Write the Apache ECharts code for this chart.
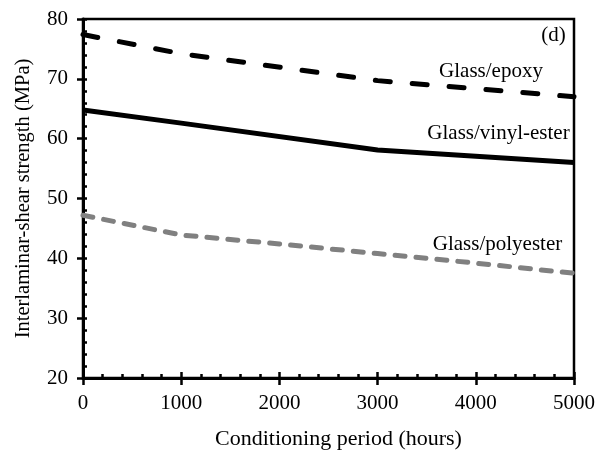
<!DOCTYPE html>
<html>
<head>
<meta charset="utf-8">
<script src="https://cdn.jsdelivr.net/npm/echarts@6/dist/echarts.min.js"></script>
<style>
html,body{margin:0;padding:0;background:#fff;}
#chart{width:601px;height:455px;}
</style>
</head>
<body>
<div id="chart"></div>
<script>
// Data
const epoxyX = [0, 1000, 3000, 5000];
const epoxyY = [77.4, 74.2, 69.7, 67.0];
const vinylX = [0, 1000, 3000, 5000];
const vinylY = [64.8, 62.6, 58.1, 56.0];
const polyX = [0, 1000, 2000, 3000, 4000, 5000];
const polyY = [47.2, 43.9, 42.4, 40.8, 39.2, 37.5];
const labelTexts = ['Glass/epoxy', 'Glass/vinyl-ester', 'Glass/polyester', '(d)'];
const labelX = [4160, 4236, 4226, 4796];
const labelY = [71.2, 60.7, 42.3, 77.2];
const xTitle = 'Conditioning period (hours)';
const yTitle = 'Interlaminar-shear strength (MPa)';

const FONT = 'Liberation Serif';
const zip = (xs, ys) => xs.map((x, i) => [x, ys[i]]);

const chart = echarts.init(document.getElementById('chart'), null, {renderer: 'canvas'});
const axisCommonX = {type: 'value', min: 0, max: 5000, interval: 1000, position: 'bottom', gridIndex: 0};
const axisCommonY = {type: 'value', min: 20, max: 80, interval: 10, position: 'left', gridIndex: 0};
chart.setOption({
  backgroundColor: '#fff',
  animation: false,
  grid: {left: 83, right: 27, top: 19, bottom: 76, show: true, borderColor: '#000', borderWidth: 2.5, backgroundColor: 'transparent'},
  xAxis: [
    Object.assign({}, axisCommonX, {
      name: xTitle, nameLocation: 'middle', nameGap: 50,
      nameTextStyle: {fontFamily: FONT, fontSize: 22, color: '#000', padding: [0, 0, 0, 20]},
      axisLine: {show: true, onZero: false, lineStyle: {color: '#000', width: 3}},
      axisTick: {show: true, inside: false, length: 7, lineStyle: {color: '#000', width: 2.5}},
      axisLabel: {show: true, margin: 15, fontFamily: FONT, fontSize: 21, color: '#000', formatter: v => String(v)},
      splitLine: {show: false}
    }),
    Object.assign({}, axisCommonX, {
      axisLine: {show: false, onZero: false},
      axisTick: {show: true, inside: true, length: 6, lineStyle: {color: '#000', width: 2.5}},
      minorTick: {show: true, splitNumber: 5, length: 4, lineStyle: {color: '#000', width: 2.5}},
      axisLabel: {show: false},
      splitLine: {show: false}
    })
  ],
  yAxis: [
    Object.assign({}, axisCommonY, {
      name: yTitle, nameLocation: 'middle', nameGap: 49,
      nameTextStyle: {fontFamily: FONT, fontSize: 20.5, color: '#000'},
      axisLine: {show: true, onZero: false, lineStyle: {color: '#000', width: 3}},
      axisTick: {show: true, inside: false, length: 6, lineStyle: {color: '#000', width: 2.5}},
      axisLabel: {show: true, margin: 15, fontFamily: FONT, fontSize: 21, color: '#000', formatter: v => String(v)},
      splitLine: {show: false}
    }),
    Object.assign({}, axisCommonY, {
      axisLine: {show: false, onZero: false},
      axisTick: {show: true, inside: true, length: 4, lineStyle: {color: '#000', width: 2.5}},
      minorTick: {show: true, splitNumber: 5, length: 4, lineStyle: {color: '#000', width: 2.5}},
      axisLabel: {show: false},
      splitLine: {show: false}
    })
  ],
  series: [
    {
      name: 'Glass/epoxy', type: 'line', data: zip(epoxyX, epoxyY), showSymbol: false, symbol: 'none',
      lineStyle: {color: '#000', width: 5, type: [15, 22], cap: 'round'}, z: 3
    },
    {
      name: 'Glass/vinyl-ester', type: 'line', data: zip(vinylX, vinylY), showSymbol: false, symbol: 'none',
      lineStyle: {color: '#000', width: 5, type: 'solid'}, z: 3
    },
    {
      name: 'Glass/polyester', type: 'line', data: zip(polyX, polyY), showSymbol: false, symbol: 'none',
      lineStyle: {color: '#808080', width: 5, type: [10, 11], cap: 'round'}, z: 3
    },
    {
      name: 'labels', type: 'scatter', symbolSize: 1, itemStyle: {color: '#fff', opacity: 1},
      data: labelX.map((x, i) => [x, labelY[i], labelTexts[i]]),
      label: {show: true, position: [0, 0], align: 'center', verticalAlign: 'middle',
        formatter: p => p.data[2], fontFamily: FONT, fontSize: 21, color: '#000', textBorderWidth: 0},
      silent: true, z: 5
    }
  ]
});
</script>
</body>
</html>
